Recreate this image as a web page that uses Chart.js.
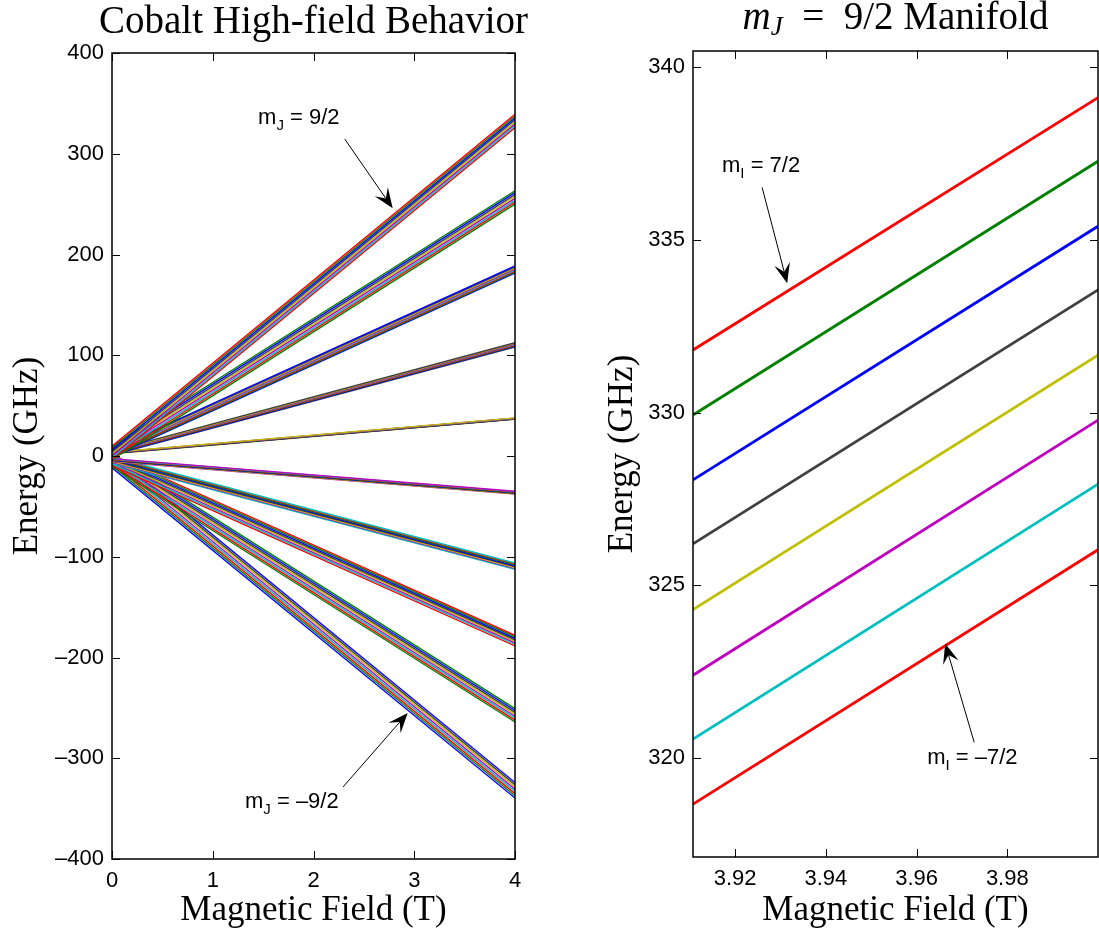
<!DOCTYPE html>
<html lang="en">
<head>
  <meta charset="UTF-8" />
  <title>Cobalt High-field Behavior</title>
  <script src="https://cdn.jsdelivr.net/npm/chart.js"></script>
  <style>
    body { margin: 0; background: #fff; }
    #wrap { position: relative; width: 1099px; height: 932px; }
    #leftChart { position: absolute; left: 0; top: 0; }
    #rightChart { position: absolute; left: 560px; top: 0; }
  </style>
</head>
<body>
  <div id="wrap">
    <canvas id="leftChart" width="550" height="932"></canvas>
    <canvas id="rightChart" width="539" height="932"></canvas>
  </div>

<script>
  // ---- data ----
  // left panel: each mJ band has 8 mI lines, energies (GHz) at 0 T and 4 T, lowest first
  const fieldRange = [0, 4];
  const bandNames = ['-9/2', '-7/2', '-5/2', '-3/2', '-1/2', '1/2', '3/2', '5/2', '7/2', '9/2'];
  const energyAt0T = [
    [-11.7, -9.5, -7.3, -5.1, -2.9, -0.7, 1.5, 3.7],
    [-10.7, -8.8, -6.9, -5.0, -3.1, -1.2, 0.7, 2.6],
    [-9.3, -7.8, -6.3, -4.8, -3.3, -1.8, -0.3, 1.2],
    [-7.2, -6.3, -5.4, -4.5, -3.6, -2.7, -1.8, -0.9],
    [-5.4, -5.0, -4.6, -4.2, -3.8, -3.4, -3.0, -2.6],
    [2.3, 2.5, 2.7, 2.9, 3.1, 3.3, 3.5, 3.7],
    [0.9, 1.5, 2.1, 2.7, 3.3, 3.9, 4.5, 5.1],
    [-0.5, 0.5, 1.5, 2.5, 3.5, 4.5, 5.5, 6.5],
    [-3.6, -1.7, 0.2, 2.1, 4.0, 5.9, 7.8, 9.7],
    [-3.5, -1.6, 0.3, 2.2, 4.1, 6.0, 7.9, 9.8]
  ];
  const energyAt4T = [
    [-339.5, -337.3, -335.1, -332.9, -330.7, -328.5, -326.3, -324.1],
    [-264.0, -262.1, -260.2, -258.3, -256.4, -254.5, -252.6, -250.7],
    [-188.5, -187.0, -185.5, -184.0, -182.5, -181.0, -179.5, -178.0],
    [-112.5, -111.6, -110.7, -109.8, -108.9, -108.0, -107.1, -106.2],
    [-37.8, -37.4, -37.0, -36.6, -36.2, -35.8, -35.4, -35.0],
    [36.4, 36.6, 36.8, 37.0, 37.2, 37.4, 37.6, 37.8],
    [108.2, 108.8, 109.4, 110.0, 110.6, 111.2, 111.8, 112.4],
    [181.6, 182.6, 183.6, 184.6, 185.6, 186.6, 187.6, 188.6],
    [250.0, 251.9, 253.8, 255.7, 257.6, 259.5, 261.4, 263.3],
    [326.0, 327.9, 329.8, 331.7, 333.6, 335.4, 337.3, 339.1]
  ];

  // right panel: mJ = 9/2 manifold, mI = -7/2 ... 7/2 (lowest first)
  const zoomField = [3.9107, 4.0];
  const zoomMI = ['-7/2', '-5/2', '-3/2', '-1/2', '1/2', '3/2', '5/2', '7/2'];
  const zoomStart = [318.67, 320.55, 322.40, 324.30, 326.20, 328.05, 329.93, 331.81];
  const zoomEnd = [326.03, 327.93, 329.78, 331.66, 333.55, 335.39, 337.27, 339.11];

  // ticks
  const leftXTicks = [0, 1, 2, 3, 4];
  const leftYTicks = [-400, -300, -200, -100, 0, 100, 200, 300, 400];
  const rightXTicks = [3.92, 3.94, 3.96, 3.98];
  const rightYTicks = [320, 325, 330, 335, 340];

  // matlab's old default line colour order
  const lineColors = ['#0000ff', '#008000', '#ff0000', '#00bfbf', '#bf00bf', '#bfbf00', '#404040'];

  const SANS = 'Liberation Sans, Arial, sans-serif';
  const SERIF = 'Liberation Serif, Times New Roman, serif';

  function fmtTick(v) {
    return v < 0 ? '\u2013' + Math.abs(v) : String(v);
  }

  // draw a run of text pieces: [text, size, dy, italic, family]
  function measureRun(ctx, parts) {
    let w = 0;
    parts.forEach(p => {
      ctx.font = (p[3] ? 'italic ' : '') + p[1] + 'px ' + (p[4] || SANS);
      w += ctx.measureText(p[0]).width;
    });
    return w;
  }
  function drawRun(ctx, x, y, parts) {
    let cx = x;
    parts.forEach(p => {
      ctx.font = (p[3] ? 'italic ' : '') + p[1] + 'px ' + (p[4] || SANS);
      ctx.fillText(p[0], cx, y + (p[2] || 0));
      cx += ctx.measureText(p[0]).width;
    });
  }

  function drawArrow(ctx, x0, y0, x1, y1) {
    const dx = x1 - x0, dy = y1 - y0;
    const len = Math.hypot(dx, dy);
    const ux = dx / len, uy = dy / len;
    const nx = -uy, ny = ux;
    const hl = 20, hw = 8;
    ctx.beginPath();
    ctx.moveTo(x0, y0);
    ctx.lineTo(x1 - ux * hl * 0.6, y1 - uy * hl * 0.6);
    ctx.stroke();
    ctx.beginPath();
    ctx.moveTo(x1, y1);
    ctx.lineTo(x1 - ux * hl + nx * hw, y1 - uy * hl + ny * hw);
    ctx.lineTo(x1 - ux * hl * 0.6, y1 - uy * hl * 0.6);
    ctx.lineTo(x1 - ux * hl - nx * hw, y1 - uy * hl - ny * hw);
    ctx.closePath();
    ctx.fill();
  }

  // box with inward ticks on all four sides, titles and arrows
  const decorPlugin = {
    id: 'decor',
    afterDatasetsDraw(chart, args, opts) {
      const { ctx, chartArea: a, scales: { x, y } } = chart;
      ctx.save();
      ctx.strokeStyle = '#000';
      ctx.fillStyle = '#000';
      ctx.lineWidth = 1;
      const L = 8;
      ctx.beginPath();
      x.ticks.forEach(t => {
        const px = Math.round(x.getPixelForValue(t.value)) + 0.5;
        ctx.moveTo(px, a.bottom); ctx.lineTo(px, a.bottom - L);
        ctx.moveTo(px, a.top); ctx.lineTo(px, a.top + L);
      });
      y.ticks.forEach(t => {
        const py = Math.round(y.getPixelForValue(t.value)) + 0.5;
        ctx.moveTo(a.left, py); ctx.lineTo(a.left + L, py);
        ctx.moveTo(a.right, py); ctx.lineTo(a.right - L, py);
      });
      ctx.stroke();
      ctx.lineWidth = 1.5;
      ctx.strokeRect(a.left, a.top, a.right - a.left, a.bottom - a.top);

      // title
      if (opts.title) {
        ctx.textBaseline = 'alphabetic';
        const w = measureRun(ctx, opts.title);
        drawRun(ctx, (a.left + a.right) / 2 - w / 2, opts.titleY, opts.title);
      }

      // arrows and labels
      ctx.lineWidth = 1;
      (opts.notes || []).forEach(n => {
        ctx.textBaseline = 'alphabetic';
        drawRun(ctx, x.getPixelForValue(n.at[0]), y.getPixelForValue(n.at[1]), n.text);
        drawArrow(ctx,
          x.getPixelForValue(n.tail[0]), y.getPixelForValue(n.tail[1]),
          x.getPixelForValue(n.tip[0]), y.getPixelForValue(n.tip[1]));
      });
      ctx.restore();
    }
  };

  function makeScales(o) {
    return {
      x: {
        type: 'linear', min: o.xMin, max: o.xMax,
        grid: { display: false, drawTicks: false },
        border: { display: false },
        afterBuildTicks: s => { s.ticks = o.xTicks.map(v => ({ value: v })); },
        ticks: { font: { family: SANS, size: 22 }, color: '#000', padding: 9, maxRotation: 0, autoSkip: false,
                 callback: o.xFmt },
        title: { display: true, text: 'Magnetic Field (T)', color: '#000',
                 font: { family: SERIF, size: 35 }, padding: { top: 0, bottom: 0 } },
        afterFit: s => { s.height = o.xHeight; }
      },
      y: {
        type: 'linear', min: o.yMin, max: o.yMax,
        grid: { display: false, drawTicks: false },
        border: { display: false },
        afterBuildTicks: s => { s.ticks = o.yTicks.map(v => ({ value: v })); },
        ticks: { font: { family: SANS, size: 22 }, color: '#000', padding: 8, autoSkip: false,
                 callback: fmtTick },
        title: { display: true, text: 'Energy (GHz)', color: '#000',
                 font: { family: SERIF, size: 35 }, padding: { top: o.yTitlePad, bottom: 0 } },
        afterFit: s => { s.width = o.yWidth; }
      }
    };
  }

  // ---- left panel ----
  const leftSets = [];
  bandNames.forEach((name, b) => {
    for (let k = 0; k < 8; k++) {
      const idx = b * 8 + k;
      leftSets.push({
        label: 'mJ=' + name + ' #' + (k + 1),
        data: [{ x: fieldRange[0], y: energyAt0T[b][k] }, { x: fieldRange[1], y: energyAt4T[b][k] }],
        borderColor: lineColors[idx % 7],
        borderWidth: 1.4,
        pointRadius: 0,
        order: -idx
      });
    }
  });

  new Chart(document.getElementById('leftChart'), {
    type: 'line',
    data: { datasets: leftSets },
    options: {
      responsive: false,
      animation: false,
      devicePixelRatio: 1,
      layout: { padding: { top: 53, right: 35, left: 0, bottom: 0 } },
      scales: makeScales({
        xMin: 0, xMax: 4, xTicks: leftXTicks, xFmt: v => String(v), xHeight: 73,
        yMin: -400, yMax: 400, yTicks: leftYTicks, yWidth: 112, yTitlePad: 7
      }),
      plugins: {
        legend: { display: false },
        tooltip: { enabled: false },
        decor: {
          title: [['Cobalt High-field Behavior', 39, 0, false, SERIF]],
          titleY: 33,
          notes: [
            { text: [['m', 22], ['J', 15, 6], [' = 9/2', 22]], at: [1.45, 329.5], tail: [2.31, 314.6], tip: [2.786, 245.9] },
            { text: [['m', 22], ['J', 15, 6], [' = \u20139/2', 22]], at: [1.32, -349.4], tail: [2.293, -328.5], tip: [2.935, -255.1] }
          ]
        }
      }
    },
    plugins: [decorPlugin]
  });

  // ---- right panel ----
  const rightSets = zoomMI.map((mi, k) => ({
    label: 'mI=' + mi,
    data: [{ x: zoomField[0], y: zoomStart[k] }, { x: zoomField[1], y: zoomEnd[k] }],
    borderColor: lineColors[(72 + k) % 7],
    borderWidth: 2.8,
    pointRadius: 0,
    order: -k
  }));

  new Chart(document.getElementById('rightChart'), {
    type: 'line',
    data: { datasets: rightSets },
    options: {
      responsive: false,
      animation: false,
      devicePixelRatio: 1,
      layout: { padding: { top: 51, right: 1, left: 0, bottom: 0 } },
      scales: makeScales({
        xMin: 3.9107, xMax: 4.0, xTicks: rightXTicks, xFmt: v => v.toFixed(2), xHeight: 75,
        yMin: 317.14, yMax: 340.46, yTicks: rightYTicks, yWidth: 133, yTitlePad: 42
      }),
      plugins: {
        legend: { display: false },
        tooltip: { enabled: false },
        decor: {
          title: [['m', 39, 0, true, SERIF], ['J', 27, 6, true, SERIF], ['\u2002=\u2002', 39, 0, false, SERIF],
                  ['9/2 Manifold', 39, 0, false, SERIF]],
          titleY: 29,
          notes: [
            { text: [['m', 22], ['I', 15, 6], [' = 7/2', 22]], at: [3.9171, 336.97], tail: [3.92595, 336.51], tip: [3.93147, 333.74] },
            { text: [['m', 22], ['I', 15, 6], [' = \u20137/2', 22]], at: [3.96234, 319.83], tail: [3.9727, 320.46], tip: [3.9663, 323.32] }
          ]
        }
      }
    },
    plugins: [decorPlugin]
  });
</script>
</body>
</html>
